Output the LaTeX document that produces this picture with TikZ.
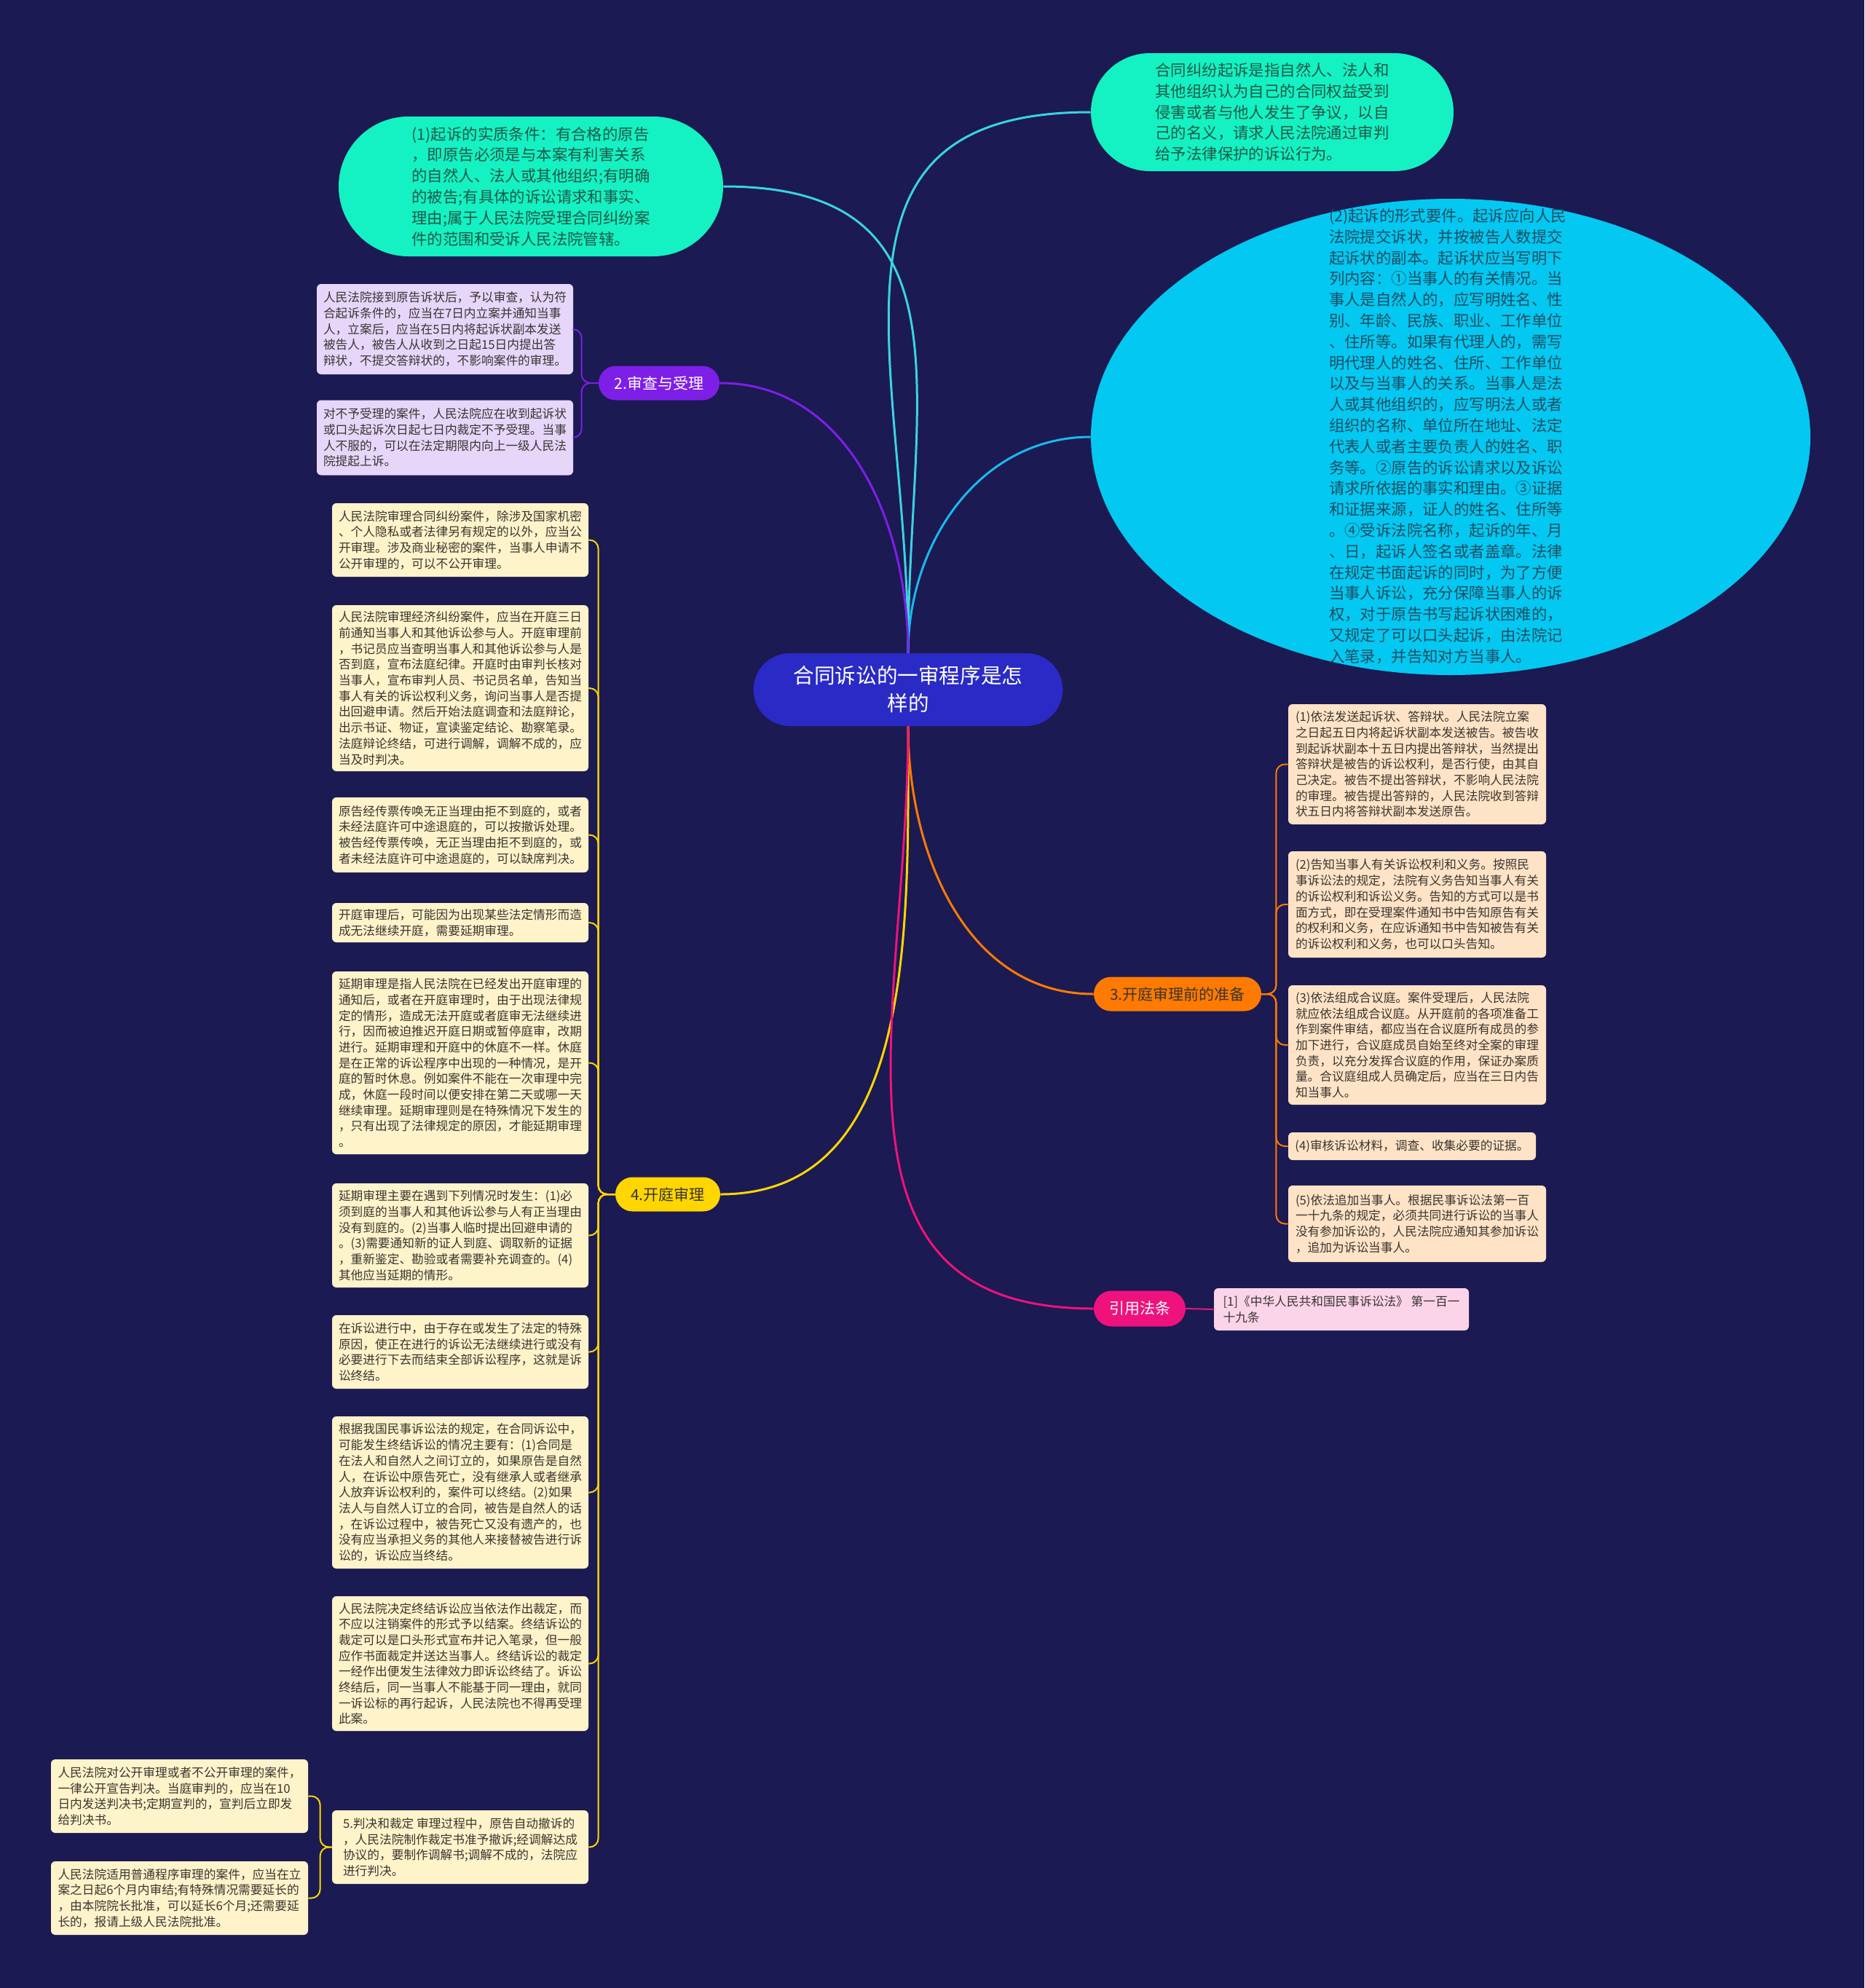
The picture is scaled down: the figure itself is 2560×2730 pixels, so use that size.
\documentclass[tikz,border=0pt]{standalone}
\usepackage{fontspec}
\setmainfont{Noto Sans CJK SC}
\usetikzlibrary{shapes.misc, shapes.geometric, positioning}

\definecolor{bgnavy}{HTML}{1B1A52}
\definecolor{centerblue}{HTML}{2A2AC6}
\definecolor{topgreen}{HTML}{14F1C2}
\definecolor{greentext}{HTML}{1D5A49}
\definecolor{elcyan}{HTML}{03C8F1}
\definecolor{eltext}{HTML}{1D4E63}
\definecolor{purpill}{HTML}{7D1FE6}
\definecolor{purleaf}{HTML}{E6D6FA}
\definecolor{yelpill}{HTML}{FFD600}
\definecolor{yelleaf}{HTML}{FFF3CA}
\definecolor{orapill}{HTML}{FF7A00}
\definecolor{oraleaf}{HTML}{FFE3C6}
\definecolor{pinkpill}{HTML}{EF127D}
\definecolor{pinkleaf}{HTML}{FCD4EA}
\definecolor{leaftext}{HTML}{3A3530}
\definecolor{lnteal}{HTML}{3AD3E0}
\definecolor{lnblue}{HTML}{1AB8EE}

\begin{document}
\begin{tikzpicture}[x=0.5pt, y=-0.5pt,
    pill/.style={rounded rectangle, inner sep=2pt, font=\fontsize{10.5}{13}\selectfont},
    bigtext/.style={align=left, inner sep=0pt, font=\fontsize{10.7}{14.4}\selectfont},
    leaf/.style={rounded corners=3pt, inner xsep=3pt, inner ysep=2pt, align=left,
      text=leaftext, font=\fontsize{8.35}{10.85}\selectfont},
    mainline/.style={line width=1.5pt},
    sublink/.style={line width=1pt, rounded corners=6pt}]
  \useasboundingbox (0,0) rectangle (2560,2730);
  \fill[bgnavy] (0,0) rectangle (2560,2730);

  \node[rounded rectangle, fill=centerblue, text=white, align=center, minimum width=219pt,
    minimum height=50pt, font=\fontsize{14.3}{19}\selectfont] (c) at (1247,947)
    {合同诉讼的一审程序是怎\\样的};

  \node[rounded rectangle, fill=topgreen, text=greentext, bigtext, minimum width=264pt,
    minimum height=96pt] (tl) at (729,256)
    {(1)起诉的实质条件：有合格的原告\\
     ，即原告必须是与本案有利害关系\\
     的自然人、法人或其他组织;有明确\\
     的被告;有具体的诉讼请求和事实、\\
     理由;属于人民法院受理合同纠纷案\\
     件的范围和受诉人民法院管辖。};
  \node[rounded rectangle, fill=topgreen, text=greentext, bigtext, minimum width=249pt,
    minimum height=81pt] (tr) at (1747,154)
    {合同纠纷起诉是指自然人、法人和\\
     其他组织认为自己的合同权益受到\\
     侵害或者与他人发生了争议，以自\\
     己的名义，请求人民法院通过审判\\
     给予法律保护的诉讼行为。};

  \node[ellipse, fill=elcyan, minimum width=494pt, minimum height=327pt, inner sep=0pt]
    (el) at (1992,600) {};
  \node[bigtext, text=eltext] (eltxt) at (1988,599)
    {(2)起诉的形式要件。起诉应向人民\\
     法院提交诉状，并按被告人数提交\\
     起诉状的副本。起诉状应当写明下\\
     列内容：①当事人的有关情况。当\\
     事人是自然人的，应写明姓名、性\\
     别、年龄、民族、职业、工作单位\\
     、住所等。如果有代理人的，需写\\
     明代理人的姓名、住所、工作单位\\
     以及与当事人的关系。当事人是法\\
     人或其他组织的，应写明法人或者\\
     组织的名称、单位所在地址、法定\\
     代表人或者主要负责人的姓名、职\\
     务等。②原告的诉讼请求以及诉讼\\
     请求所依据的事实和理由。③证据\\
     和证据来源，证人的姓名、住所等\\
     。④受诉法院名称，起诉的年、月\\
     、日，起诉人签名或者盖章。法律\\
     在规定书面起诉的同时，为了方便\\
     当事人诉讼，充分保障当事人的诉\\
     权，对于原告书写起诉状困难的，\\
     又规定了可以口头起诉，由法院记\\
     入笔录，并告知对方当事人。};

  \node[pill, fill=purpill, text=white, minimum width=87pt, minimum height=23.5pt]
    (pur) at (905,526) {2.审查与受理};
  \node[leaf, fill=purleaf, minimum width=176pt, minimum height=62pt] (p1) at (611,452)
    {人民法院接到原告诉状后，予以审查，认为符\\
     合起诉条件的，应当在7日内立案并通知当事\\
     人，立案后，应当在5日内将起诉状副本发送\\
     被告人，被告人从收到之日起15日内提出答\\
     辩状，不提交答辩状的，不影响案件的审理。};
  \node[leaf, fill=purleaf, minimum width=176pt, minimum height=51.5pt] (p2) at (611,601)
    {对不予受理的案件，人民法院应在收到起诉状\\
     或口头起诉次日起七日内裁定不予受理。当事\\
     人不服的，可以在法定期限内向上一级人民法\\
     院提起上诉。};

  \node[pill, fill=yelpill, text=leaftext, minimum width=76pt, minimum height=23.5pt]
    (yel) at (917,1640) {4.开庭审理};
  \node[leaf, fill=yelleaf, minimum width=176pt, minimum height=50.5pt] (y1) at (632,741.5)
    {人民法院审理合同纠纷案件，除涉及国家机密\\
     、个人隐私或者法律另有规定的以外，应当公\\
     开审理。涉及商业秘密的案件，当事人申请不\\
     公开审理的，可以不公开审理。};
  \node[leaf, fill=yelleaf, minimum width=176pt, minimum height=114pt] (y2) at (632,945)
    {人民法院审理经济纠纷案件，应当在开庭三日\\
     前通知当事人和其他诉讼参与人。开庭审理前\\
     ，书记员应当查明当事人和其他诉讼参与人是\\
     否到庭，宣布法庭纪律。开庭时由审判长核对\\
     当事人，宣布审判人员、书记员名单，告知当\\
     事人有关的诉讼权利义务，询问当事人是否提\\
     出回避申请。然后开始法庭调查和法庭辩论，\\
     出示书证、物证，宣读鉴定结论、勘察笔录。\\
     法庭辩论终结，可进行调解，调解不成的，应\\
     当及时判决。};
  \node[leaf, fill=yelleaf, minimum width=176pt, minimum height=51.5pt] (y3) at (632,1146.5)
    {原告经传票传唤无正当理由拒不到庭的，或者\\
     未经法庭许可中途退庭的，可以按撤诉处理。\\
     被告经传票传唤，无正当理由拒不到庭的，或\\
     者未经法庭许可中途退庭的，可以缺席判决。};
  \node[leaf, fill=yelleaf, minimum width=176pt, minimum height=27pt] (y4) at (632,1267)
    {开庭审理后，可能因为出现某些法定情形而造\\
     成无法继续开庭，需要延期审理。};
  \node[leaf, fill=yelleaf, minimum width=176pt, minimum height=125.5pt] (y5) at (632,1459.5)
    {延期审理是指人民法院在已经发出开庭审理的\\
     通知后，或者在开庭审理时，由于出现法律规\\
     定的情形，造成无法开庭或者庭审无法继续进\\
     行，因而被迫推迟开庭日期或暂停庭审，改期\\
     进行。延期审理和开庭中的休庭不一样。休庭\\
     是在正常的诉讼程序中出现的一种情况，是开\\
     庭的暂时休息。例如案件不能在一次审理中完\\
     成，休庭一段时间以便安排在第二天或哪一天\\
     继续审理。延期审理则是在特殊情况下发生的\\
     ，只有出现了法律规定的原因，才能延期审理\\
     。};
  \node[leaf, fill=yelleaf, minimum width=176pt, minimum height=71.5pt] (y6) at (632,1696.5)
    {延期审理主要在遇到下列情况时发生：(1)必\\
     须到庭的当事人和其他诉讼参与人有正当理由\\
     没有到庭的。(2)当事人临时提出回避申请的\\
     。(3)需要通知新的证人到庭、调取新的证据\\
     ，重新鉴定、勘验或者需要补充调查的。(4)\\
     其他应当延期的情形。};
  \node[leaf, fill=yelleaf, minimum width=176pt, minimum height=50.5pt] (y7) at (632,1856.5)
    {在诉讼进行中，由于存在或发生了法定的特殊\\
     原因，使正在进行的诉讼无法继续进行或没有\\
     必要进行下去而结束全部诉讼程序，这就是诉\\
     讼终结。};
  \node[leaf, fill=yelleaf, minimum width=176pt, minimum height=104.5pt] (y8) at (632,2049.5)
    {根据我国民事诉讼法的规定，在合同诉讼中，\\
     可能发生终结诉讼的情况主要有：(1)合同是\\
     在法人和自然人之间订立的，如果原告是自然\\
     人，在诉讼中原告死亡，没有继承人或者继承\\
     人放弃诉讼权利的，案件可以终结。(2)如果\\
     法人与自然人订立的合同，被告是自然人的话\\
     ，在诉讼过程中，被告死亡又没有遗产的，也\\
     没有应当承担义务的其他人来接替被告进行诉\\
     讼的，诉讼应当终结。};
  \node[leaf, fill=yelleaf, minimum width=176pt, minimum height=92.5pt] (y9) at (632,2284.5)
    {人民法院决定终结诉讼应当依法作出裁定，而\\
     不应以注销案件的形式予以结案。终结诉讼的\\
     裁定可以是口头形式宣布并记入笔录，但一般\\
     应作书面裁定并送达当事人。终结诉讼的裁定\\
     一经作出便发生法律效力即诉讼终结了。诉讼\\
     终结后，同一当事人不能基于同一理由，就同\\
     一诉讼标的再行起诉，人民法院也不得再受理\\
     此案。};
  \node[leaf, fill=yelleaf, minimum width=176pt, minimum height=50.5pt] (y10) at (632,2536.5)
    {5.判决和裁定 审理过程中，原告自动撤诉的\\
     ，人民法院制作裁定书准予撤诉;经调解达成\\
     协议的，要制作调解书;调解不成的，法院应\\
     进行判决。};
  \node[leaf, fill=yelleaf, minimum width=176.5pt, minimum height=50.5pt] (z1) at (246.5,2466.5)
    {人民法院对公开审理或者不公开审理的案件，\\
     一律公开宣告判决。当庭审判的，应当在10\\
     日内发送判决书;定期宣判的，宣判后立即发\\
     给判决书。};
  \node[leaf, fill=yelleaf, minimum width=176.5pt, minimum height=50.5pt] (z2) at (246.5,2606.5)
    {人民法院适用普通程序审理的案件，应当在立\\
     案之日起6个月内审结;有特殊情况需要延长的\\
     ，由本院院长批准，可以延长6个月;还需要延\\
     长的，报请上级人民法院批准。};

  \node[pill, fill=orapill, text=leaftext, minimum width=119pt, minimum height=23.5pt]
    (ora) at (1617,1365) {3.开庭审理前的准备};
  \node[leaf, fill=oraleaf, minimum width=177pt, minimum height=82.5pt] (o1) at (1946,1049.5)
    {(1)依法发送起诉状、答辩状。人民法院立案\\
     之日起五日内将起诉状副本发送被告。被告收\\
     到起诉状副本十五日内提出答辩状，当然提出\\
     答辩状是被告的诉讼权利，是否行使，由其自\\
     己决定。被告不提出答辩状，不影响人民法院\\
     的审理。被告提出答辩的，人民法院收到答辩\\
     状五日内将答辩状副本发送原告。};
  \node[leaf, fill=oraleaf, minimum width=177pt, minimum height=73pt] (o2) at (1946,1242)
    {(2)告知当事人有关诉讼权利和义务。按照民\\
     事诉讼法的规定，法院有义务告知当事人有关\\
     的诉讼权利和诉讼义务。告知的方式可以是书\\
     面方式，即在受理案件通知书中告知原告有关\\
     的权利和义务，在应诉通知书中告知被告有关\\
     的诉讼权利和义务，也可以口头告知。};
  \node[leaf, fill=oraleaf, minimum width=177pt, minimum height=82pt] (o3) at (1946,1435)
    {(3)依法组成合议庭。案件受理后，人民法院\\
     就应依法组成合议庭。从开庭前的各项准备工\\
     作到案件审结，都应当在合议庭所有成员的参\\
     加下进行，合议庭成员自始至终对全案的审理\\
     负责，以充分发挥合议庭的作用，保证办案质\\
     量。合议庭组成人员确定后，应当在三日内告\\
     知当事人。};
  \node[leaf, fill=oraleaf, minimum width=170pt, minimum height=19pt] (o4) at (1939,1574)
    {(4)审核诉讼材料，调查、收集必要的证据。};
  \node[leaf, fill=oraleaf, minimum width=177pt, minimum height=52.5pt] (o5) at (1946,1680.5)
    {(5)依法追加当事人。根据民事诉讼法第一百\\
     一十九条的规定，必须共同进行诉讼的当事人\\
     没有参加诉讼的，人民法院应通知其参加诉讼\\
     ，追加为诉讼当事人。};

  \node[pill, fill=pinkpill, text=white, minimum width=67pt, minimum height=24.5pt]
    (pink) at (1565,1797) {引用法条};
  \node[leaf, fill=pinkleaf, minimum width=175pt, minimum height=29pt] (cit) at (1842,1798)
    {[1]《中华人民共和国民事诉讼法》 第一百一\\十九条};

  \draw[mainline, lnteal] (c.north) to[out=90, in=0, looseness=1.3] (tl.east);
  \draw[mainline, lnteal] (c.north) to[out=90, in=180, looseness=1.3] (tr.west);
  \draw[mainline, lnblue] (c.north) to[out=90, in=180] (el.west);
  \draw[mainline, purpill] (c.north) to[out=90, in=0] (pur.east);
  \draw[mainline, yelpill] (c.south) to[out=-90, in=0] (yel.east);
  \draw[mainline, orapill] (c.south) to[out=-90, in=180] (ora.west);
  \draw[mainline, pinkpill] (c.south) to[out=-90, in=180, looseness=1.2] (pink.west);

  \foreach \b in {p1,p2}
    \draw[sublink, purpill] (pur.west) -- ++(-23,0) |- (\b.east);
  \foreach \b in {y1,y2,y3,y4,y5,y6,y7,y8,y9,y10}
    \draw[sublink, yelpill] (yel.west) -- ++(-23,0) |- (\b.east);
  \foreach \b in {z1,z2}
    \draw[sublink, yelpill] (y10.west) -- ++(-16,0) |- (\b.east);
  \foreach \b in {o1,o2,o3,o4,o5}
    \draw[sublink, orapill] (ora.east) -- ++(20,0) |- (\b.west);
  \draw[sublink, pinkpill] (pink.east) -- (cit.west);
\end{tikzpicture}
\end{document}
